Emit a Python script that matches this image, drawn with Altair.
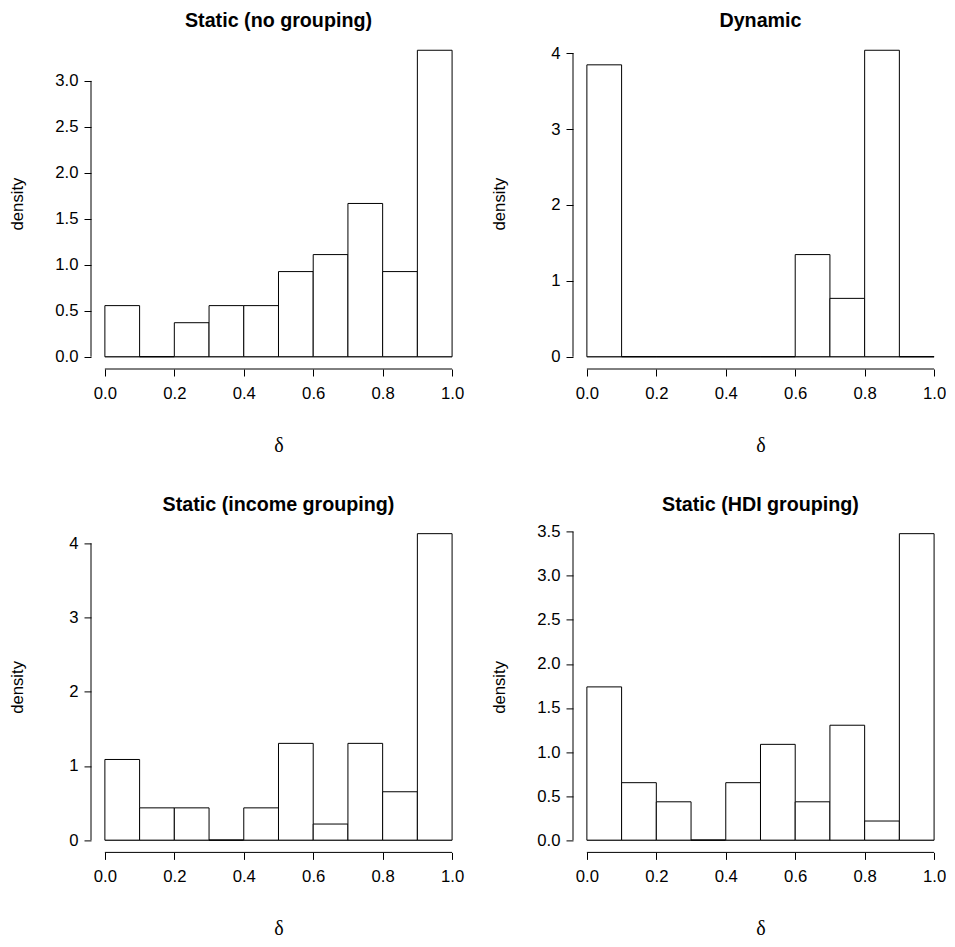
import altair as alt
import pandas as pd

# ---- data ----
bin_edges = [0.0, 0.1, 0.2, 0.3, 0.4, 0.5, 0.6, 0.7, 0.8, 0.9, 1.0]
x_ticks = [0.0, 0.2, 0.4, 0.6, 0.8, 1.0]

titles = ["Static (no grouping)", "Dynamic", "Static (income grouping)", "Static (HDI grouping)"]

dens_static_none = [0.556, 0.0, 0.370, 0.556, 0.556, 0.926, 1.111, 1.667, 0.926, 3.333]
dens_dynamic = [3.846, 0.0, 0.0, 0.0, 0.0, 0.0, 1.346, 0.769, 4.038, 0.0]
dens_static_income = [1.087, 0.435, 0.435, 0.0, 0.435, 1.304, 0.217, 1.304, 0.652, 4.130]
dens_static_hdi = [1.739, 0.652, 0.435, 0.0, 0.652, 1.087, 0.435, 1.304, 0.217, 3.478]

y_ticks_none = [0.0, 0.5, 1.0, 1.5, 2.0, 2.5, 3.0]
y_ticks_dynamic = [0, 1, 2, 3, 4]
y_ticks_income = [0, 1, 2, 3, 4]
y_ticks_hdi = [0.0, 0.5, 1.0, 1.5, 2.0, 2.5, 3.0, 3.5]

H = 331
PX_PER_UNIT = 347.2
FONT = "Liberation Sans"


def panel(title, dens, yticks, yfmt, xmax):
    df = pd.DataFrame({"x0": bin_edges[:-1], "x1": bin_edges[1:], "d": dens})
    ymax = max(dens)
    width = (xmax + 0.04) * PX_PER_UNIT
    xs = alt.Scale(domain=[-0.04, xmax], nice=False, zero=False)
    ys = alt.Scale(domain=[-0.04 * ymax, 1.04 * ymax], nice=False, zero=False)
    xaxis = alt.Axis(values=x_ticks, format=".1f", title="δ",
                     titleFont="Liberation Serif", titleFontSize=20,
                     titleFontWeight="normal", titleY=82,
                     titleX=0.54 * PX_PER_UNIT,
                     titleBaseline="alphabetic", labelPadding=9.5)
    yaxis = alt.Axis(values=yticks, format=yfmt, title="density",
                     titleFont=FONT, titleFontSize=16.7,
                     titleFontWeight="normal", titleX=-69,
                     titleY=H / 2, titleAngle=270, titleAlign="center",
                     titleBaseline="alphabetic", labelPadding=6)

    bars = alt.Chart(df).mark_rect(fill="white", stroke="black", strokeWidth=1).encode(
        x=alt.X("x0:Q", scale=xs, axis=xaxis),
        x2="x1:Q",
        y=alt.Y("d:Q", scale=ys, axis=yaxis),
        y2=alt.datum(0),
    )

    xline_df = pd.DataFrame({"x0": [bin_edges[0]], "x1": [bin_edges[-1]]})
    xaxis_line = alt.Chart(xline_df).mark_rule(color="black", strokeWidth=1).encode(
        x=alt.X("x0:Q", scale=xs, axis=xaxis), x2="x1:Q", y=alt.value(H)
    )
    base_line = alt.Chart(xline_df).mark_rule(color="black", strokeWidth=1).encode(
        x=alt.X("x0:Q", scale=xs, axis=xaxis), x2="x1:Q",
        y=alt.Y("d:Q", scale=ys, axis=yaxis),
    ).transform_calculate(d="0")
    yline_df = pd.DataFrame({"d": [yticks[0]], "d2": [yticks[-1]]})
    yaxis_line = alt.Chart(yline_df).mark_rule(color="black", strokeWidth=1).encode(
        y=alt.Y("d:Q", scale=ys, axis=yaxis), y2="d2:Q", x=alt.value(0)
    )

    return alt.layer(base_line, bars, xaxis_line, yaxis_line).properties(
        width=width, height=H,
        title=alt.TitleParams(text=title, font=FONT, fontSize=19.7, fontWeight="bold",
                              color="black", anchor="start", frame="group",
                              dx=0.54 * PX_PER_UNIT, align="center",
                              baseline="top", offset=7),
    )


p1 = panel(titles[0], dens_static_none, y_ticks_none, ".1f", 1.04)
p2 = panel(titles[1], dens_dynamic, y_ticks_dynamic, "d", 1.02)
p3 = panel(titles[2], dens_static_income, y_ticks_income, "d", 1.04)
p4 = panel(titles[3], dens_static_hdi, y_ticks_hdi, ".1f", 1.02)

chart = alt.concat(
    p1, p2, p3, p4, columns=2, spacing={"row": 152.4, "column": 107.0}, bounds="flush"
).properties(
    padding={"left": 1, "top": 3, "right": 0, "bottom": 0},
    background="white",
).configure_view(stroke=None).configure_axis(
    labelFont=FONT, labelFontSize=16.7, labelColor="black",
    tickColor="black", tickWidth=1, tickSize=7, domain=False, grid=False,
    titleColor="black", labelFlush=False, labelOverlap=False, labelBound=False,
)

chart.save("out.html", embed_options={"renderer": "svg", "actions": False})
